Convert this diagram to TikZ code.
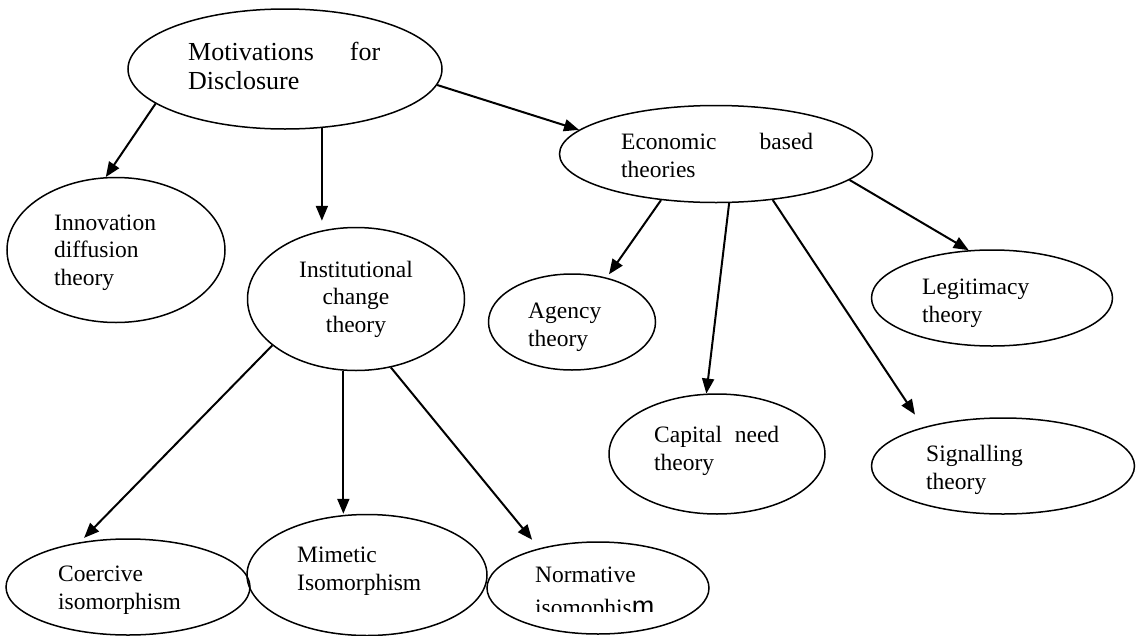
\documentclass[tikz,border=0pt]{standalone}
\usepackage{fontspec}
\setmainfont{Liberation Serif}
\newfontfamily\sansm{Liberation Sans}
\usetikzlibrary{arrows.meta,shapes.geometric}
\begin{document}
\begin{tikzpicture}[x=1pt,y=-1pt,
  ell/.style 2 args={draw, ellipse, line width=1.5pt, inner sep=0pt,
    minimum width=#1pt, minimum height=#2pt},
  txt/.style={anchor=base west, inner sep=0pt, align=left,
    font=\fontsize{23.5}{27.5}\selectfont},
  arr/.style={line width=2pt, -{Triangle[length=15pt,width=12pt]}}]
\fill[white] (0,0) rectangle (1136,635);
\useasboundingbox (0,0) rectangle (1136,635);
% ellipses
\node[ell={314}{120}] (mot) at (285,69) {};
\node[ell={313}{97}]  (eco) at (716,154) {};
\node[ell={218}{145}] (inn) at (116,250) {};
\node[ell={217}{143}] (ins) at (356,299) {};
\node[ell={167}{96}]  (age) at (572,322) {};
\node[ell={241}{96}]  (leg) at (992,298) {};
\node[ell={216}{120}] (cap) at (717,454) {};
\node[ell={263}{96}]  (sig) at (1003,466) {};
\node[ell={244}{96}]  (coe) at (128,587) {};
\node[ell={240}{121}] (mim) at (367,575) {};
\node[ell={222}{92}]  (nor) at (598,588) {};
% texts (anchored at the baseline of the last line)
\node[txt, font=\fontsize{26}{29}\selectfont] (tmot) at (188,89)
  {\makebox[192pt][s]{Motivations for}\\Disclosure};
\node[txt] (teco) at (621,177) {\makebox[192pt][s]{Economic based}\\theories};
\node[txt] (tinn) at (54,285) {Innovation\\diffusion\\theory};
\node[txt, align=center, anchor=base] (tins) at (356,332) {Institutional\\change\\theory};
\node[txt] (tage) at (528,346) {Agency\\theory};
\node[txt] (tleg) at (922,322) {Legitimacy\\theory};
\node[txt] (tcap) at (654,470) {\makebox[125pt][s]{Capital need}\\theory};
\node[txt] (tsig) at (926,489) {Signalling\\theory};
\node[txt] (tcoe) at (58,609) {Coercive\\isomorphism};
\node[txt] (tmim) at (297,590) {Mimetic\\Isomorphism};
\begin{scope}
\clip (480,530) rectangle (720,611);
\node[txt, font=\fontsize{23.5}{33}\selectfont] (tnor) at (535,615)
  {Normative\\isomophis{\sansm\fontsize{27}{27}\selectfont m}};
\end{scope}
% arrows
\draw[arr] (mot.195) -- (inn.98);
\draw[arr, shorten >=6pt] (mot.302) -- (mot.302 |- ins.north);
\draw[arr] (mot.354) -- (eco.170);
\draw[arr, shorten >=4pt] (eco.220) -- (age.52);
\draw[arr] (eco.285) -- (cap.100);
\draw[arr, shorten >=15pt] (eco.321) -- (sig.154);
\draw[arr] (eco.349) -- (leg.116);
\draw[arr, shorten >=6pt] (ins.209) -- (coe.137);
\draw[arr] (ins.260) -- (ins.260 |- mim.north);
\draw[arr, shorten >=11pt] (ins.297) -- (nor.146);
\end{tikzpicture}
\end{document}
